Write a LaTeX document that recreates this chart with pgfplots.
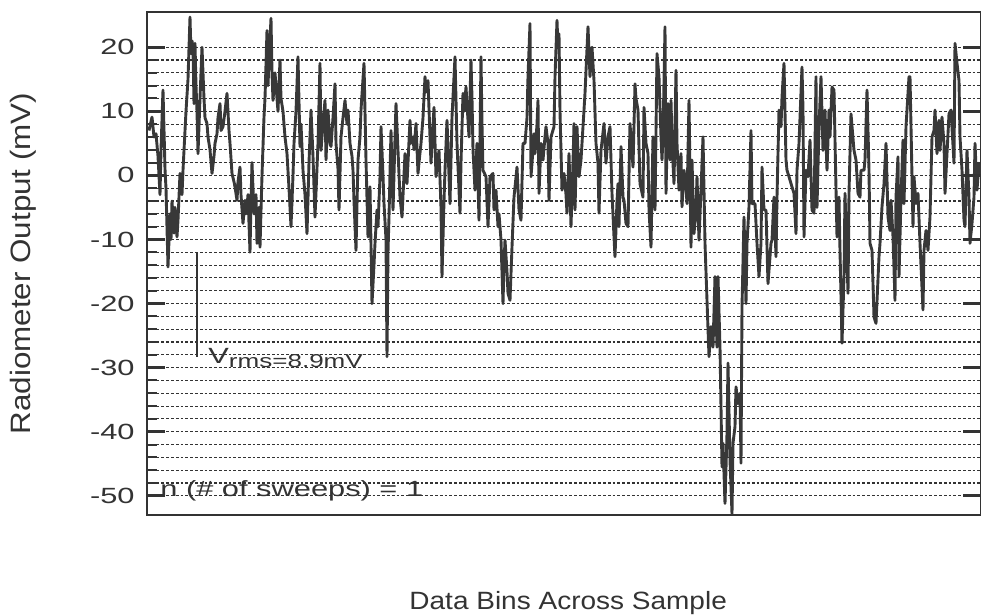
\documentclass[border=0pt]{standalone}
\usepackage{fontspec}
\usepackage{pgfplots}
\pgfplotsset{compat=1.18}
\setmainfont{Liberation Sans}
\newfontfamily\tickfont[FakeStretch=1.4]{Liberation Sans}
\newfontfamily\labfont[FakeStretch=1.12]{Liberation Sans}
\definecolor{ink}{HTML}{333333}
\definecolor{trace}{HTML}{383838}

% x runs over the data bins (one unit per bin column), y in mV
\pgfplotsset{
  frame/.style={
    at={(0,0)}, anchor=south west,
    scale only axis, width=417pt, height=251.5pt,
    xmin=147, xmax=981, ymin=-53, ymax=25.5,
    xtick=\empty,
    ytick={-50,-40,...,20},
  },
}

\begin{document}
\begin{tikzpicture}
\begin{axis}[
  frame,
  minor y tick num=4,
  ytick pos=left,
  yticklabel={\pgfmathtruncatemacro\tk{\tick}\tk},
  yticklabel style={font=\tickfont\fontsize{11}{12}\selectfont, text=ink,
    anchor=east, inner sep=0pt, xshift=-6pt},
  ymajorgrids, yminorgrids,
  major grid style={black!80, line width=0.55pt, dash pattern=on 1.4pt off 1pt},
  minor grid style={black!80, line width=0.55pt, dash pattern=on 1.4pt off 1pt},
  major tick length=9pt, minor tick length=5pt,
  major tick style={ink, line width=1.3pt},
  minor tick style={ink, line width=1pt},
  axis line style={ink, line width=1.3pt},
  xlabel={Data Bins Across Sample},
  ylabel={Radiometer Output (mV)},
  xlabel style={font=\labfont\fontsize{12.5}{15}\selectfont, text=ink,
    at={(axis description cs:0.505,-0.175)}, anchor=center},
  ylabel style={font=\labfont\fontsize{14}{16}\selectfont, text=ink,
    at={(axis description cs:-0.148,0.5)}, anchor=center},
]
\addplot[trace, line width=1.45pt, line join=round] coordinates {
(149,7)(152,9.1)(154,6)(156,6.5)(158,3)(160,-3)(161,4)(163,13.3)(165,1)(166,-2)
(168,-14.3)(170,-6)(171,-10)(172,-4)(174,-9)(175,-5)(177,-9.6)(178,-7)(180,0.3)(182,-3)
(183,0.8)(186,10)(188,15)(190,24.7)(191,19)(192,21)(193,20)(194,11.2)(195,20.6)(196,14)
(197,10)(198,3.4)(200,12)(202,20)(204,12)(205,9)(207,8.1)(208,6)(210,4)(212,0.3)
(214,3)(215,5)(217,6.5)(218,9)(220,11.2)(221,7)(223,7.6)(225,10)(227,12.8)(229,7)
(230,5)(232,0.3)(234,-1)(235,-1.8)(237,-3.9)(238,-1)(240,1.3)(241,-3)(243,-7.5)(245,-3.9)
(246,-6)(247,-5)(248,-3)(250,-12)(251,-4)(252,2)(254,-6)(256,-3)(257,-10.6)(259,-5)
(260,-11.2)(262,0)(264,9.1)(265,12)(267,22.6)(268,14)(269,18)(271,24.5)(272,16)(273,11.7)
(275,16)(276,14)(278,10)(280,18)(281,12)(283,10)(285,6)(287,3.4)(289,-2)(291,-8)
(293,0)(294,5)(296,10)(298,18.5)(300,4.5)(301,8)(303,0.8)(305,-3)(307,-9.1)(309,2)
(311,10.2)(313,3)(315,-6.5)(318,5)(320,17.5)(321,3.9)(323,8)(325,11.7)(326,2.4)(328,10.2)
(330,5)(331,4.5)(333,9)(335,14.3)(336,5)(338,1)(339,-5.4)(341,6)(343,9)(345,11.7)
(347,8)(348,10.2)(350,5)(352,3)(353,0.8)(354,-4)(356,-11.7)(358,2.4)(360,6)(361,10.2)
(364,17.5)(366,2.4)(368,-9.6)(370,-1.8)(372,-20)(374,-14)(375,-10.6)(377,-5.4)(378,-8)(380,-0.2)
(381,7.6)(383,0)(384,-4.4)(386,-10)(387,-28.3)(388,-12)(389,-6.5)(391,7)(393,-5.4)(396,11.2)
(398,3.9)(400,-3.4)(402,-6.5)(405,3.4)(407,-1.3)(410,8.6)(411,5)(413,6)(414,4)(416,8.1)
(418,0.3)(419,2)(421,5)(423,9)(425,15.4)(426,13)(428,14.8)(430,6)(431,1.9)(434,10.6)
(436,-0.2)(439,3.9)(441,-5)(442,-15.8)(444,-4)(445,0.8)(447,8.6)(450,-4.4)(452,9.1)(455,18.5)
(457,5)(460,-5.9)(461,2)(463,12.8)(464,10)(466,13.8)(469,6)(471,18)(472,12)(473,4)
(475,-2.3)(477,5)(479,-7)(481,18.5)(482,8)(483,0.8)(486,-0.2)(488,-8)(490,-0.2)(493,0.3)
(494,-5.4)(496,-2.3)(498,-8)(499,-6)(501,-10.1)(503,-20)(504,-14)(505,-10.1)(507,-15)(508,-18.4)
(510,-19.5)(512,-11.2)(514,-3.4)(517,1.3)(519,-5.4)(521,-7)(523,5)(525,5)(527,9)(528,15.4)
(530,23.7)(531,-0.2)(533,4)(534,6.5)(535,3.4)(537,8)(538,11.7)(539,-2.8)(541,5)(543,2.4)
(545,6)(546,7.6)(548,5)(549,-3.9)(551,6)(554,7.6)(555,15.4)(557,24.2)(558,20)(559,22.1)
(560,10)(562,-2.3)(564,0.3)(566,-3)(567,-5.9)(569,3.4)(571,-8)(573,2)(574,8.1)(575,-5.4)
(577,7.6)(579,-0.2)(581,2.4)(583,7.6)(585,12.8)(588,23.2)(590,15.4)(592,20)(594,14.8)(596,5)
(598,1.9)(599,-5.9)(601,3.9)(604,8.1)(606,1.9)(608,6)(610,7.6)(612,-2.8)(614,-9.6)(615,-12.7)
(617,-4)(618,-1.3)(619,-8)(621,4.5)(623,-3.4)(624,-3.9)(626,-7.5)(628,-8)(630,8.1)(633,1.3)
(635,14.3)(636,12)(638,10.2)(640,-1.3)(643,-3.4)(644,10.6)(646,5)(648,3.4)(649,-5.4)(651,-11.2)
(653,6)(655,-5.4)(657,19)(659,15.4)(661,6)(662,2.4)(663,6)(665,23.2)(666,-2.8)(668,11.2)
(670,2.4)(671,11.7)(672,5)(674,-1.3)(676,16.4)(677,5)(679,-2.3)(681,3.4)(682,-4.9)(684,0.8)
(686,-1.8)(687,-4.4)(689,11.7)(691,-11.2)(692,2.4)(694,-9.1)(696,-5.4)(697,-0.2)(699,-10.1)(701,-2.3)
(703,6)(705,-10.6)(707,-19.5)(709,-28.3)(711,-23.6)(713,-26.8)(715,-15.8)(717,-26.8)(718,-15.8)(720,-26.8)
(722,-45.5)(723,-41.8)(725,-51.2)(727,-40.3)(728,-29.3)(730,-44.4)(732,-52.8)(733,-41.8)(735,-39.2)(736,-33)
(738,-35.6)(740,-34)(741,-44.9)(742,-20.5)(744,-6.5)(746,-20)(747,-10.6)(749,-4.9)(751,7)(752,-4.4)
(755,-4.4)(757,-10.6)(759,-15.8)(761,-10.6)(762,1.3)(764,-5.4)(766,-5.4)(768,-16.9)(771,-10.6)(772,-10.1)
(774,-3.4)(776,-12.7)(777,-3.4)(779,10.2)(781,7.6)(782,12.2)(784,17.5)(786,2.4)(787,0.8)(789,-0.2)
(792,-1.8)(794,-2.8)(796,-9.1)(797,0.8)(799,5)(802,16.9)(803,10.2)(804,-9.6)(806,0.8)(808,-0.2)
(810,5.5)(812,-5.4)(814,-5.9)(816,15.4)(817,-5)(819,7.6)(821,15.4)(823,3.9)(825,10.2)(827,0.8)
(829,10.2)(830,6)(832,13.8)(834,13.3)(835,5.5)(837,-9.6)(839,-3.4)(840,-11.7)(842,-26.2)(844,-15.8)
(845,-2.8)(848,-18.4)(849,-2.8)(851,9.6)(854,3.9)(856,2.4)(858,-2.8)(860,-3.4)(861,0.8)(864,0.8)
(865,2.4)(867,13.3)(869,0.8)(870,-10.6)(872,-11.7)(874,-22.1)(876,-23.1)(879,-12.7)(880,-10.6)(882,-4.9)
(884,-1.3)(886,5)(888,-6.5)(890,-8.6)(891,-3.9)(893,-9.6)(895,-19.5)(896,-3.4)(898,2.9)(899,-15.8)
(901,-3.4)(903,5.5)(904,-4.4)(906,7.6)(909,15.4)(910,15.4)(913,-8)(914,-0.2)(916,-4.4)(918,-2.8)
(920,-10.6)(923,-21)(924,-11.7)(926,-8.6)(928,-11.7)(930,-6.5)(932,6)(934,7)(935,10.2)(937,3.4)
(939,8.6)(940,3.9)(942,9.1)(944,5)(945,-2.8)(947,3.4)(949,9.6)(951,10.2)(954,1.9)(955,20.6)
(957,17.5)(959,14.8)(960,6)(962,0.8)(964,-7)(965,-8)(967,3.9)(969,-3.4)(970,-10.6)(972,-7.5)
(974,-3.4)(975,5)(977,-2.3)(979,1.9)(981,-0.2)
};
% rms bar and notes
\draw[ink, line width=0.8pt] (axis cs:197,-12.1) -- (axis cs:197,-28.4);
\node[anchor=base west, inner sep=0pt, text=ink,
  font=\tickfont\fontsize{11}{12}\selectfont] at (axis cs:208,-29.4)
  {V\raisebox{-2pt}{\fontsize{9.3}{10}\selectfont rms=8.9mV}};
\node[anchor=base west, inner sep=0pt, text=ink,
  font=\tickfont\fontsize{11}{12}\selectfont] at (axis cs:160,-50.1)
  {n (\# of sweeps) = 1};
\end{axis}
% major ticks on the right edge only
\begin{axis}[
  frame,
  ytick pos=right,
  yticklabels={},
  axis line style={draw=none},
  major tick length=9pt,
  major tick style={ink, line width=1.3pt},
]
\end{axis}
\pgfresetboundingbox
\path (-73.5pt,-50.5pt) rectangle (417pt,257.5pt);
\end{tikzpicture}
\end{document}
